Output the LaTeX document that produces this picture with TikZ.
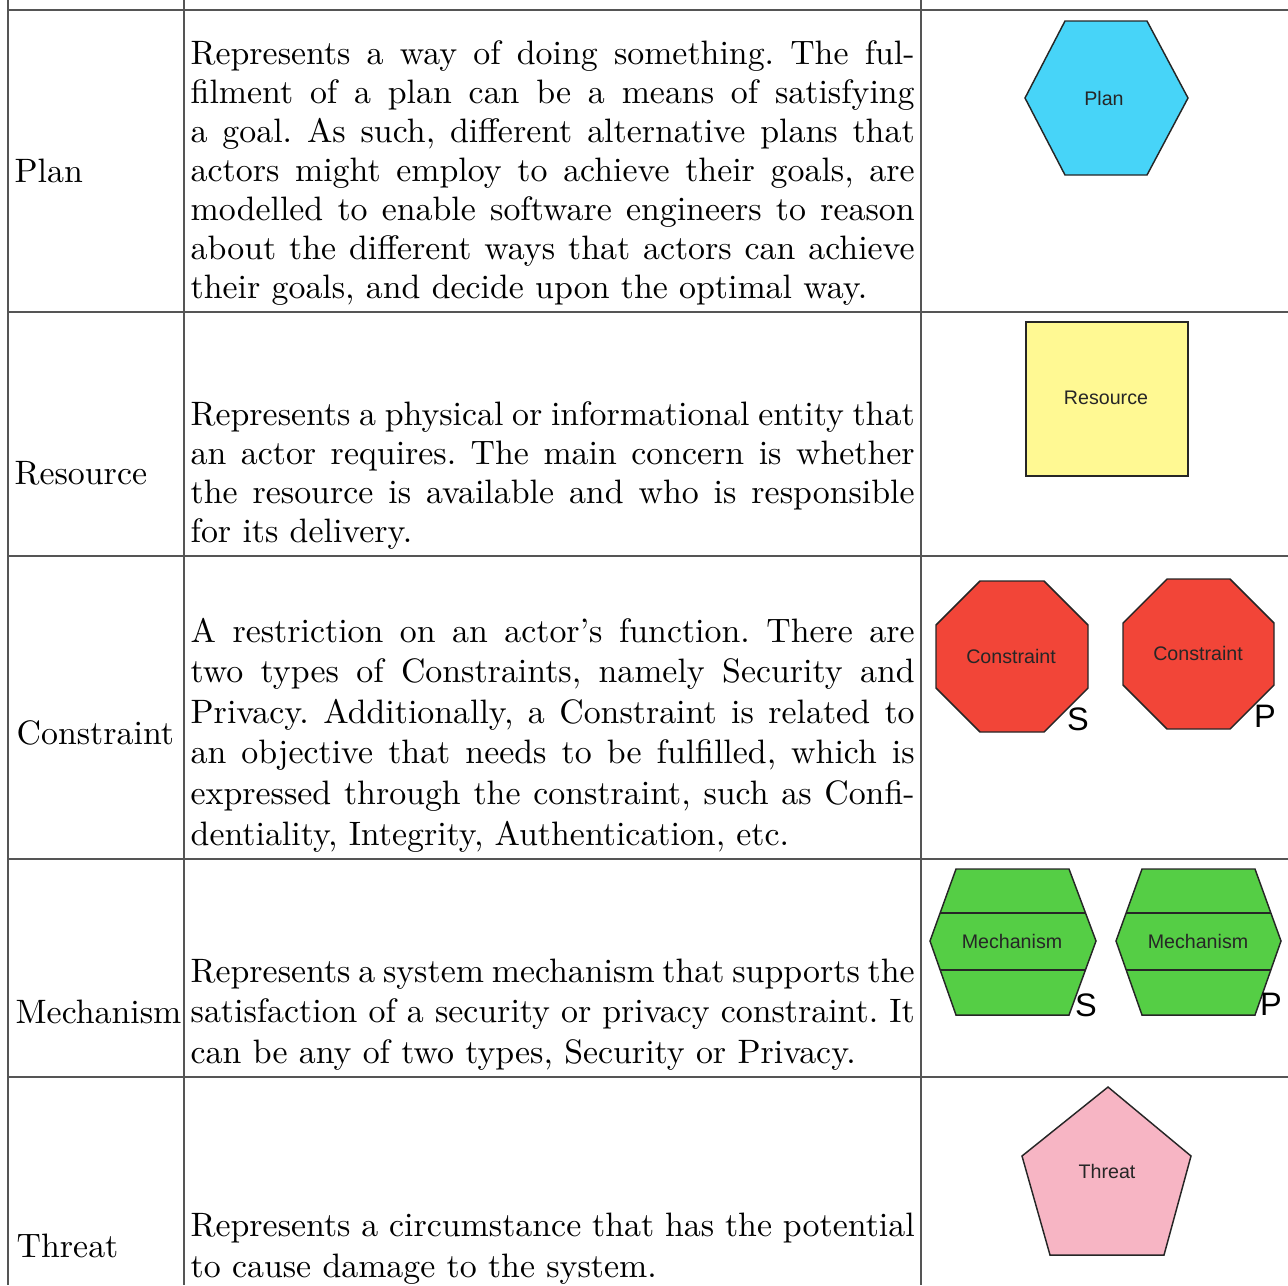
\documentclass[tikz,border=0pt]{standalone}
\usepackage{fontspec}
\newfontfamily\shapefont{Liberation Sans}
\usetikzlibrary{calc}
\definecolor{planblue}{HTML}{47D4F8}
\definecolor{resyellow}{HTML}{FFF993}
\definecolor{conred}{HTML}{F24538}
\definecolor{mechgreen}{HTML}{55CE45}
\definecolor{threatpink}{HTML}{F7B5C4}
\definecolor{rulegray}{HTML}{555555}

\begin{document}
\frenchspacing
\begin{tikzpicture}[x=0.2953pt, y=-0.2953pt,
  rule/.style={draw=rulegray, line width=0.43pt},
  outline/.style={draw=black!85, line width=0.43pt, line join=miter},
  desc/.style={anchor=base west, inner sep=0pt, text width=213.8pt, align=justify},
  rowlabel/.style={anchor=base west, inner sep=0pt},
  shapelabel/.style={font=\shapefont\fontsize{5.8}{7}\selectfont, text=black!85, inner sep=0pt},
  tag/.style={font=\shapefont\fontsize{9.6}{11}\selectfont, inner sep=0pt},
]
\useasboundingbox (0,0) rectangle (1288,1285);

% table rules
\foreach \yy in {10,312,556,859,1077}
  \draw[rule] (8,\yy) -- (1288,\yy);
\foreach \xx in {8,184,921}
  \draw[rule] (\xx,0) -- (\xx,1285);

% first column
\node[rowlabel] (lplan) at (14,182) {Plan};
\node[rowlabel] (lres) at (14,484) {Resource};
\node[rowlabel] (lcon) at (16,744) {Constraint};
\node[rowlabel] (lmech) at (15,1023) {Mechanism};
\node[rowlabel] (lthr) at (16,1257) {Threat};

% descriptions
\node[desc, font=\fontsize{10}{11.52}\selectfont] (dplan) at (190,64)
 {Represents a way of doing something. The ful-\linebreak
  filment of a plan can be a means of satisfying\linebreak
  a goal. As such, different alternative plans that\linebreak
  actors might employ to achieve their goals, are\linebreak
  modelled to enable software engineers to reason\linebreak
  about the different ways that actors can achieve\linebreak
  their goals, and decide upon the optimal way.};
\node[desc, font=\fontsize{10}{11.6}\selectfont] (dres) at (190,425)
 {Represents a physical or informational entity that\linebreak
  an actor requires. The main concern is whether\linebreak
  the resource is available and who is responsible\linebreak
  for its delivery.};
\node[desc, font=\fontsize{10}{11.99}\selectfont] (dcon) at (190,642)
 {A restriction on an actor's function. There are\linebreak
  two types of Constraints, namely Security and\linebreak
  Privacy. Additionally, a Constraint is related to\linebreak
  an objective that needs to be fulfilled, which is\linebreak
  expressed through the constraint, such as Confi-\linebreak
  dentiality, Integrity, Authentication, etc.};
\node[desc, font=\fontsize{10}{12.1}\selectfont] (dmech) at (190,982)
 {Represents a system mechanism that supports the\linebreak
  satisfaction of a security or privacy constraint. It\linebreak
  can be any of two types, Security or Privacy.};
\node[desc, font=\fontsize{10}{12.1}\selectfont] (dthr) at (190,1236)
 {Represents a circumstance that has the potential\linebreak
  to cause damage to the system.};

% plan: hexagon
\draw[outline, fill=planblue] (1065,21) -- (1147,21) -- (1188,98) -- (1147,175)
  -- (1065,175) -- (1025,98) -- cycle;
\node[shapelabel] (splan) at (1104,98) {Plan};

% resource: square
\draw[outline, fill=resyellow] (1026,322) rectangle (1188,476);
\node[shapelabel] (sres) at (1106,398) {Resource};

% constraints: octagons
\draw[outline, fill=conred] (980,581) -- (1044,581) -- (1088,625) -- (1088,688)
  -- (1044,732) -- (980,732) -- (936,688) -- (936,625) -- cycle;
\node[shapelabel] (scons) at (1011,656) {Constraint};
\node[tag] (tcons) at (1078,719) {S};
\draw[outline, fill=conred] (1167,579) -- (1230,579) -- (1274,623) -- (1274,685)
  -- (1230,729) -- (1167,729) -- (1123,685) -- (1123,623) -- cycle;
\node[shapelabel] (sconp) at (1198,653) {Constraint};
\node[tag] (tconp) at (1265,716) {P};

% mechanisms: banded hexagons
\coordinate (msTL) at (956,869);  \coordinate (msTR) at (1069,869);
\coordinate (msR)  at (1096,941); \coordinate (msBR) at (1069,1015);
\coordinate (msBL) at (956,1015); \coordinate (msL)  at (930,941);
\draw[outline, fill=mechgreen] (msTL) -- (msTR) -- (msR) -- (msBR) -- (msBL) -- (msL) -- cycle;
\draw[outline, line width=0.6pt] ($(msTL)!0.611!(msL)$) -- ($(msTR)!0.611!(msR)$);
\draw[outline, line width=0.6pt] ($(msL)!0.392!(msBL)$) -- ($(msR)!0.392!(msBR)$);
\node[shapelabel] (smechs) at (1012,941) {Mechanism};
\node[tag] (tmechs) at (1086,1005) {S};

\coordinate (mpTL) at (1142,869); \coordinate (mpTR) at (1255,869);
\coordinate (mpR)  at (1281,941); \coordinate (mpBR) at (1255,1015);
\coordinate (mpBL) at (1142,1015); \coordinate (mpL) at (1116,941);
\draw[outline, fill=mechgreen] (mpTL) -- (mpTR) -- (mpR) -- (mpBR) -- (mpBL) -- (mpL) -- cycle;
\draw[outline, line width=0.6pt] ($(mpTL)!0.611!(mpL)$) -- ($(mpTR)!0.611!(mpR)$);
\draw[outline, line width=0.6pt] ($(mpL)!0.392!(mpBL)$) -- ($(mpR)!0.392!(mpBR)$);
\node[shapelabel] (smechp) at (1198,941) {Mechanism};
\node[tag] (tmechp) at (1271,1004) {P};

% threat: pentagon
\draw[outline, fill=threatpink] (1108,1087) -- (1191,1156) -- (1164,1255)
  -- (1050,1255) -- (1022,1156) -- cycle;
\node[shapelabel] (sthr) at (1107,1171) {Threat};
\end{tikzpicture}
\end{document}
